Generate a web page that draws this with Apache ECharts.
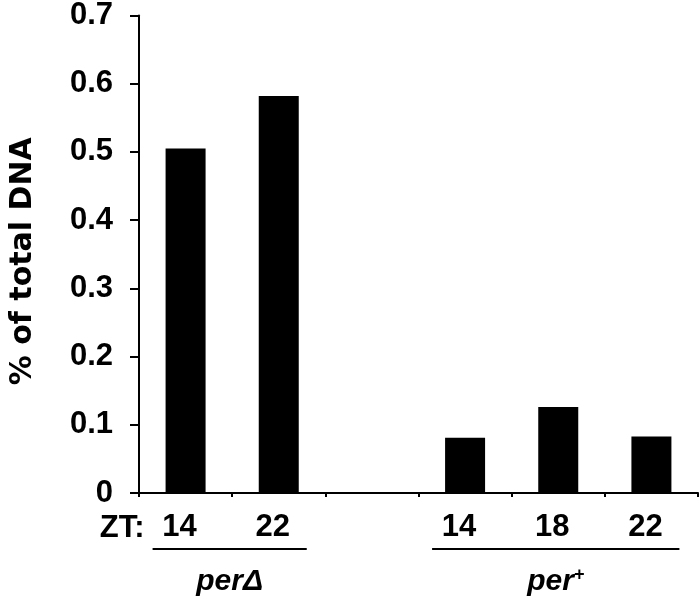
<!DOCTYPE html>
<html>
<head>
<meta charset="utf-8">
<script src="https://cdn.jsdelivr.net/npm/echarts@6/dist/echarts.min.js"></script>
<style>
html,body{margin:0;padding:0;background:#fff;}
#main{width:700px;height:599px;}
</style>
</head>
<body>
<div id="main"></div>
<script>
const categories = ['14', '22', '', '14', '18', '22'];
const values = [0.505, 0.582, null, 0.081, 0.126, 0.083];
const yTicks = [0, 0.1, 0.2, 0.3, 0.4, 0.5, 0.6, 0.7];
const groupNames = ['per\u0394', 'per+'];
const groupStart = [0, 3];
const groupEnd = [1, 5];
const xPrefix = 'ZT:';
const yTitle = '% of total DNA';

const FONT = 'Liberation Sans, Arial, sans-serif';
const chart = echarts.init(document.getElementById('main'), null, {renderer: 'canvas'});
const option = {
  animation: false,
  backgroundColor: '#fff',
  grid: {left: 134, right: 2, top: 15, bottom: 106, containLabel: false},
  xAxis: {
    type: 'category',
    data: categories,
    axisLine: {lineStyle: {color: '#000', width: 2}},
    axisTick: {show: true, length: 4, lineStyle: {color: '#000', width: 2}},
    axisLabel: {color: '#000', fontWeight: 'bold', fontSize: 31, fontFamily: FONT, margin: 19, padding: [0, 12, 0, 0]}
  },
  yAxis: {
    type: 'value',
    min: 0, max: 0.7, interval: 0.1,
    name: yTitle,
    nameLocation: 'middle',
    nameGap: 101,
    nameTextStyle: {color: '#000', fontWeight: 'bold', fontSize: 30, fontFamily: 'DejaVu Sans, sans-serif', padding: [0, 14, 0, 0]},
    axisLine: {show: true, lineStyle: {color: '#000', width: 2}},
    axisTick: {show: true, length: 9, lineStyle: {color: '#000', width: 2}},
    splitLine: {show: false},
    axisLabel: {
      color: '#000', fontWeight: 'bold', fontSize: 31, fontFamily: FONT, margin: 26,
      formatter: v => String(yTicks.find(t => Math.abs(t - v) < 1e-9) ?? v)
    }
  },
  series: [{
    type: 'bar',
    data: values,
    barWidth: 40,
    itemStyle: {color: '#000'}
  }]
};
chart.setOption(option);

// annotations positioned through the library's scales
const baseY = chart.convertToPixel({yAxisIndex: 0}, 0);
const graphics = [];
const c0 = chart.convertToPixel({xAxisIndex: 0}, 0);
graphics.push({
  type: 'text', x: c0 - 41, y: baseY + 35,
  style: {text: xPrefix, fill: '#000', font: 'bold 31px ' + FONT, align: 'right', verticalAlign: 'middle'}
});
for (let g = 0; g < groupNames.length; g++) {
  const xa = chart.convertToPixel({xAxisIndex: 0}, groupStart[g]);
  const xb = chart.convertToPixel({xAxisIndex: 0}, groupEnd[g]);
  const left = xa - 33, right = xb + 28;
  graphics.push({
    type: 'line',
    shape: {x1: left, y1: baseY + 56, x2: right, y2: baseY + 56},
    style: {stroke: '#000', lineWidth: 2}
  });
  const name = groupNames[g];
  const isPlus = name.endsWith('+');
  graphics.push({
    type: 'text', x: (left + right) / 2, y: baseY + 89,
    style: {
      text: isPlus ? '{a|per}{s|+}' : '{a|' + name + '}',
      rich: {
        a: {font: 'italic bold 30px ' + FONT, fill: '#000'},
        s: {font: 'italic bold 18px ' + FONT, fill: '#000', verticalAlign: 'top', padding: [0, 0, 14, 0]}
      },
      align: 'center', verticalAlign: 'middle'
    }
  });
}
chart.setOption({graphic: graphics});
</script>
</body>
</html>
